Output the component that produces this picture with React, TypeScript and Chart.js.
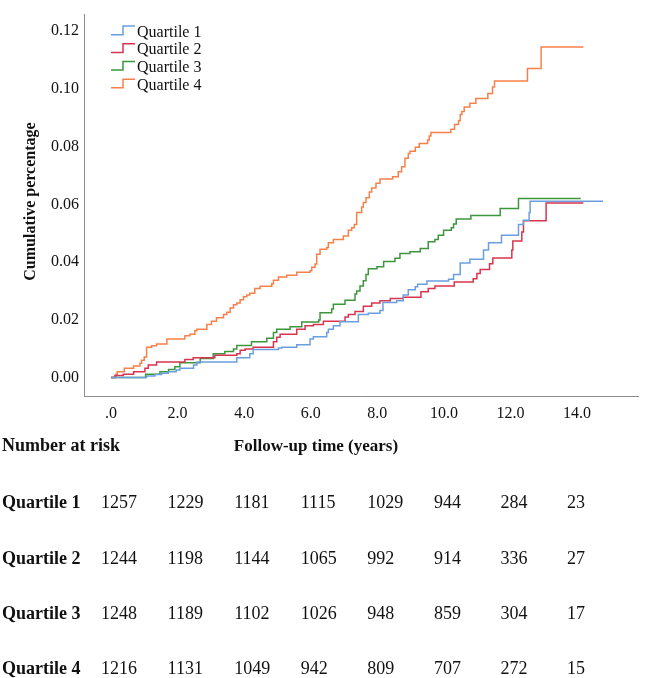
import React, { useEffect, useRef } from 'react';
import { Chart, registerables } from 'chart.js';

Chart.register(...registerables);

const seriesNames = ['Quartile 1', 'Quartile 2', 'Quartile 3', 'Quartile 4'];
const seriesColors = ['#6b9edf', '#d8344f', '#3d963d', '#f6804a'];

// Follow-up time (years) of each step and cumulative percentage after it
const q1Times = [0, 1.07, 1.32, 1.52, 1.72, 1.96, 2.07, 2.48, 2.58, 3.78, 4.17, 4.27, 5.03, 5.13, 5.58, 5.98, 6.08, 6.48, 6.53, 6.68, 6.88, 7.43, 7.73, 8.08, 8.17, 8.58, 8.78, 8.93, 9.14, 9.21, 9.49, 10.14, 10.29, 10.49, 10.78, 11.19, 11.34, 11.73, 12.24, 12.39, 12.56, 12.59, 14.78];
const q1Values = [0, 0.0005, 0.001, 0.0015, 0.002, 0.0026, 0.0032, 0.0043, 0.0054, 0.0068, 0.0082, 0.0097, 0.0102, 0.0105, 0.0113, 0.0133, 0.0141, 0.0156, 0.0167, 0.0179, 0.0193, 0.0218, 0.0223, 0.0232, 0.026, 0.0266, 0.0286, 0.0304, 0.0314, 0.0323, 0.0334, 0.034, 0.0357, 0.0397, 0.041, 0.0442, 0.0467, 0.0493, 0.053, 0.0545, 0.0572, 0.0611, 0.0611];

const q2Times = [0, 0.12, 0.37, 0.68, 1.02, 1.12, 1.37, 2.22, 2.47, 3.12, 3.78, 3.88, 4.03, 4.27, 4.88, 4.98, 5.08, 5.58, 5.83, 6.08, 6.38, 7.03, 7.13, 7.33, 7.58, 7.83, 8.08, 8.39, 8.78, 9.31, 9.53, 9.73, 10.31, 10.88, 10.99, 11.09, 11.37, 11.47, 12.04, 12.07, 12.34, 12.39, 13.07, 14.19];
const q2Values = [0, 0.0007, 0.0011, 0.002, 0.0032, 0.0043, 0.0054, 0.0062, 0.0068, 0.0077, 0.0082, 0.0094, 0.0099, 0.0105, 0.0124, 0.0139, 0.015, 0.0167, 0.0179, 0.0184, 0.0195, 0.021, 0.0218, 0.0229, 0.0247, 0.0258, 0.0266, 0.0274, 0.0278, 0.0297, 0.0308, 0.0317, 0.0331, 0.0342, 0.036, 0.0374, 0.0394, 0.0414, 0.0442, 0.0473, 0.0504, 0.0543, 0.0605, 0.0605];

const q3Times = [0, 1.04, 1.47, 1.73, 1.92, 2.07, 2.68, 3.07, 3.42, 3.68, 3.78, 4.22, 4.68, 4.88, 4.98, 5.38, 5.73, 6.24, 6.28, 6.63, 6.68, 7.03, 7.33, 7.38, 7.48, 7.58, 7.66, 7.73, 7.99, 8.19, 8.53, 8.68, 8.98, 9.29, 9.53, 9.73, 9.83, 9.99, 10.22, 10.29, 10.37, 10.81, 11.69, 12.24, 14.11];
const q3Values = [0, 0.0011, 0.002, 0.0028, 0.0037, 0.0051, 0.0066, 0.0082, 0.009, 0.0099, 0.0111, 0.0124, 0.0136, 0.0156, 0.0167, 0.0176, 0.0192, 0.0199, 0.0224, 0.0237, 0.0254, 0.0268, 0.0289, 0.03, 0.0317, 0.0335, 0.0357, 0.0377, 0.0384, 0.0402, 0.0413, 0.043, 0.0436, 0.0447, 0.047, 0.0478, 0.0493, 0.051, 0.0519, 0.0532, 0.0549, 0.0561, 0.0586, 0.062, 0.062];

const q4Times = [0, 0.15, 0.19, 0.4, 0.68, 0.87, 0.92, 1.0, 1.07, 1.22, 1.37, 1.68, 2.22, 2.37, 2.52, 2.58, 2.88, 3.02, 3.17, 3.38, 3.48, 3.58, 3.68, 3.78, 3.88, 3.98, 4.08, 4.17, 4.32, 4.48, 4.83, 4.88, 5.03, 5.28, 5.58, 5.98, 6.03, 6.13, 6.18, 6.28, 6.48, 6.53, 6.68, 6.98, 7.13, 7.23, 7.31, 7.38, 7.53, 7.58, 7.66, 7.76, 7.83, 7.96, 8.08, 8.46, 8.63, 8.73, 8.83, 8.93, 8.98, 9.14, 9.26, 9.51, 9.56, 9.61, 10.21, 10.32, 10.44, 10.49, 10.54, 10.61, 10.78, 10.96, 11.32, 11.46, 11.52, 12.51, 12.92, 14.19];
const q4Values = [0, 0.0011, 0.002, 0.0032, 0.004, 0.0049, 0.006, 0.0071, 0.0105, 0.011, 0.0116, 0.0133, 0.0145, 0.015, 0.0162, 0.0167, 0.0184, 0.0195, 0.0207, 0.0218, 0.0226, 0.0241, 0.0252, 0.0258, 0.0269, 0.028, 0.0286, 0.0292, 0.0308, 0.0316, 0.0325, 0.0337, 0.0348, 0.0354, 0.0365, 0.037, 0.0382, 0.0393, 0.0427, 0.0444, 0.045, 0.0467, 0.0478, 0.049, 0.051, 0.0519, 0.053, 0.0572, 0.0591, 0.0606, 0.0623, 0.0643, 0.0657, 0.0673, 0.0688, 0.0696, 0.0713, 0.073, 0.076, 0.0776, 0.0784, 0.0798, 0.0811, 0.0823, 0.0837, 0.0849, 0.086, 0.0877, 0.089, 0.0911, 0.0922, 0.0937, 0.095, 0.0967, 0.0984, 0.1007, 0.1027, 0.1071, 0.1145, 0.1145];

const xTickValues = [0, 2, 4, 6, 8, 10, 12, 14];
const xTickLabels = ['.0', '2.0', '4.0', '6.0', '8.0', '10.0', '12.0', '14.0'];
const yTickValues = [0, 0.02, 0.04, 0.06, 0.08, 0.1, 0.12];
const yTickLabels = ['0.00', '0.02', '0.04', '0.06', '0.08', '0.10', '0.12'];

const riskTimes = [0, 2, 4, 6, 8, 10, 12, 14];
const riskQ1 = [1257, 1229, 1181, 1115, 1029, 944, 284, 23];
const riskQ2 = [1244, 1198, 1144, 1065, 992, 914, 336, 27];
const riskQ3 = [1248, 1189, 1102, 1026, 948, 859, 304, 17];
const riskQ4 = [1216, 1131, 1049, 942, 809, 707, 272, 15];

const yTitle = 'Cumulative percentage';
const xTitle = 'Follow-up time (years)';
const riskTitle = 'Number at risk';

const FONT = "'Liberation Serif', 'Times New Roman', serif";

const overlayPlugin = {
  id: 'overlay',
  afterDraw(chart: any) {
    const ctx = chart.ctx as CanvasRenderingContext2D;
    const xs = chart.scales.x;
    const area = chart.chartArea;
    ctx.save();
    ctx.fillStyle = '#111';

    // Y-axis title
    ctx.save();
    ctx.translate(31, (area.top + area.bottom) / 2 - 4);
    ctx.rotate(-Math.PI / 2);
    ctx.font = `bold 16px ${FONT}`;
    ctx.textAlign = 'center';
    ctx.textBaseline = 'middle';
    ctx.fillText(yTitle, 0, 0);
    ctx.restore();

    // Legend
    const legendRows = [32.5, 50.2, 67.9, 85.6];
    seriesNames.forEach((name, i) => {
      const yc = legendRows[i];
      ctx.strokeStyle = seriesColors[i];
      ctx.lineWidth = 1.5;
      ctx.beginPath();
      ctx.moveTo(111, yc + 2.2);
      ctx.lineTo(123, yc + 2.2);
      ctx.lineTo(123, yc - 6.4);
      ctx.lineTo(135, yc - 6.4);
      ctx.stroke();
      ctx.fillStyle = '#111';
      ctx.font = `16px ${FONT}`;
      ctx.textAlign = 'left';
      ctx.textBaseline = 'middle';
      ctx.fillText(name, 137, yc);
    });

    // X title and risk table title
    ctx.fillStyle = '#111';
    ctx.textBaseline = 'middle';
    ctx.font = `bold 17px ${FONT}`;
    ctx.textAlign = 'center';
    ctx.fillText(xTitle, 316, 446.5);
    ctx.font = `bold 18px ${FONT}`;
    ctx.textAlign = 'left';
    ctx.fillText(riskTitle, 2, 446.5);

    // Risk table
    const rows = [riskQ1, riskQ2, riskQ3, riskQ4];
    const rowY = [503.5, 559, 614.5, 669.5];
    rows.forEach((row, r) => {
      ctx.font = `bold 18px ${FONT}`;
      ctx.textAlign = 'left';
      ctx.fillText(seriesNames[r], 2, rowY[r]);
      ctx.font = `18px ${FONT}`;
      row.forEach((n, c) => {
        const px = xs.getPixelForValue(riskTimes[c]) - 10;
        ctx.fillText(String(n), px, rowY[r]);
      });
    });
    ctx.restore();
  },
};

export default function App() {
  const ref = useRef<HTMLCanvasElement | null>(null);

  useEffect(() => {
    if (!ref.current) return;
    const datasets = [
      [q1Times, q1Values],
      [q2Times, q2Values],
      [q3Times, q3Values],
      [q4Times, q4Values],
    ].map(([ts, vs], i) => ({
      label: seriesNames[i],
      data: ts.map((t, k) => ({ x: t, y: vs[k] })),
      borderColor: seriesColors[i],
      backgroundColor: seriesColors[i],
      borderWidth: 1.5,
      pointRadius: 0,
      stepped: 'before' as const,
      fill: false,
      tension: 0,
    }));

    const chart = new Chart(ref.current, {
      type: 'line',
      data: { datasets },
      options: {
        animation: false,
        responsive: false,
        devicePixelRatio: 1,
        layout: { padding: { left: 0, top: 5, right: 29, bottom: 0 } },
        plugins: {
          legend: { display: false },
          tooltip: { enabled: false },
          title: { display: false },
        },
        scales: {
          x: {
            type: 'linear',
            min: -0.81,
            max: 15.83,
            grid: { display: false, drawTicks: false },
            border: { display: true, color: '#8c8c8c', width: 1 },
            afterBuildTicks: (s: any) => {
              s.ticks = xTickValues.map((v) => ({ value: v }));
            },
            afterFit: (s: any) => {
              s.height = 281.5;
            },
            ticks: {
              padding: 7.5,
              color: '#111',
              font: { family: FONT, size: 16 },
              callback: (v: any) => {
                const idx = xTickValues.indexOf(Number(v));
                return idx >= 0 ? xTickLabels[idx] : '';
              },
            },
          },
          y: {
            type: 'linear',
            min: -0.00659,
            max: 0.12575,
            grid: { display: false, drawTicks: false },
            border: { display: true, color: '#8c8c8c', width: 1 },
            afterBuildTicks: (s: any) => {
              s.ticks = yTickValues.map((v) => ({ value: v }));
            },
            afterFit: (s: any) => {
              s.width = 84;
            },
            ticks: {
              padding: 5,
              color: '#111',
              font: { family: FONT, size: 16 },
              callback: (v: any) => {
                const idx = yTickValues.findIndex((t) => Math.abs(t - Number(v)) < 1e-9);
                return idx >= 0 ? yTickLabels[idx] : '';
              },
            },
          },
        },
      },
      plugins: [overlayPlugin],
    });
    return () => chart.destroy();
  }, []);

  return (
    <div style={{ position: 'absolute', left: 0, top: 0, width: 667, height: 678, background: '#fff' }}>
      <canvas ref={ref} width={667} height={678} style={{ width: 667, height: 678, display: 'block' }} />
    </div>
  );
}
